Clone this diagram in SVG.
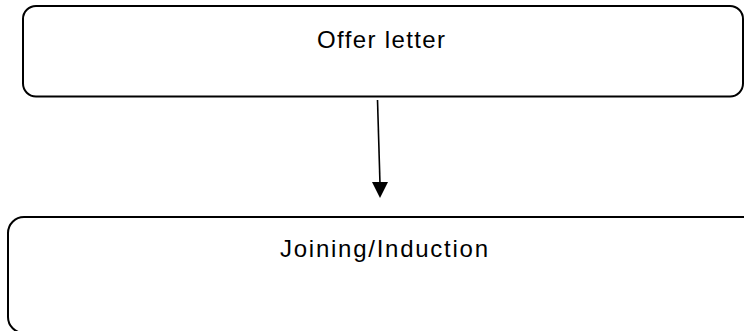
<svg xmlns="http://www.w3.org/2000/svg" width="744" height="331" viewBox="0 0 744 331">
<style>
.box{fill:#ffffff;stroke:#000000;stroke-width:2}
.lbl{font-family:"Liberation Sans","DejaVu Sans",sans-serif;font-size:24px;fill:#000000;text-anchor:middle}
.conn{stroke:#000000;stroke-width:1.6;fill:none}
</style>
<rect width="744" height="331" fill="#ffffff"/>
<g id="node-offer">
<rect class="box" x="23" y="6" width="720" height="90.5" rx="13" ry="13"/>
<text class="lbl" x="381" y="48" textLength="128" lengthAdjust="spacing">Offer letter</text>
</g>
<g id="node-joining">
<rect class="box" x="8" y="217" width="752" height="116" rx="16" ry="16"/>
<text class="lbl" x="384" y="257" textLength="208" lengthAdjust="spacing">Joining/Induction</text>
</g>
<g id="connectors">
<line class="conn" x1="377.5" y1="100" x2="380" y2="184"/>
<polygon points="372,182 388,182 380,198" fill="#000000"/>
</g>
</svg>
